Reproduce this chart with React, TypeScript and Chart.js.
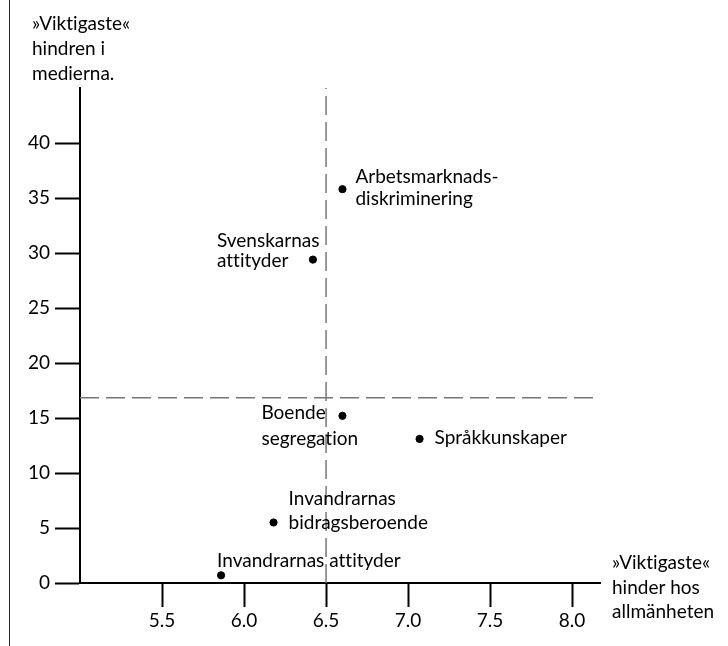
import { useEffect, useRef } from "react";
import { Chart, registerables } from "chart.js";

Chart.register(...registerables);

// ---- data ----
const pointNames: string[][] = [
  ["Arbetsmarknads-", "diskriminering"],
  ["Svenskarnas", "attityder"],
  ["Boende", "segregation"],
  ["Språkkunskaper"],
  ["Invandrarnas", "bidragsberoende"],
  ["Invandrarnas attityder"],
];
const publicValues = [6.6, 6.42, 6.6, 7.07, 6.18, 5.86]; // x: »Viktigaste« hinder hos allmänheten
const mediaValues = [35.8, 29.4, 15.2, 13.1, 5.5, 0.7]; // y: »Viktigaste« hindren i medierna
const xTickValues = [5.5, 6.0, 6.5, 7.0, 7.5, 8.0];
const yTickValues = [0, 5, 10, 15, 20, 25, 30, 35, 40];
const xDivider = 6.5;
const yDivider = 16.84;
const xRange = [5.0, 8.17];
const yRange = [0, 45];
const yTitleLines = ["»Viktigaste«", "hindren i", "medierna."];
const xTitleLines = ["»Viktigaste«", "hinder hos", "allmänheten"];

// ---- label placement (style, pixels relative to the point) ----
const labelPlacement = [
  { dx: 13, dy: -6, lh: 22 },
  { dx: -96, dy: -12.6, lh: 20 },
  { dx: -81, dy: 3.3, lh: 26 },
  { dx: 15, dy: 4.6, lh: 24 },
  { dx: 15, dy: -17.7, lh: 24 },
  { dx: -4, dy: -8.3, lh: 24 },
];

const FONT = "Lato, 'Open Sans', sans-serif";
const FONT_SIZE = 19;

const textPlugin = {
  id: "textPlugin",
  afterDraw(chart: any) {
    const ctx = chart.ctx as any;
    const xs = chart.scales.x;
    const ys = chart.scales.y;
    ctx.save();
    ctx.fillStyle = "#000";
    ctx.font = `${FONT_SIZE}px ${FONT}`;
    ctx.textAlign = "left";
    ctx.textBaseline = "alphabetic";
    try {
      ctx.textRendering = "optimizeSpeed";
    } catch (e) {}
    pointNames.forEach((lines, i) => {
      const px = xs.getPixelForValue(publicValues[i]);
      const py = ys.getPixelForValue(mediaValues[i]);
      const p = labelPlacement[i];
      lines.forEach((line, j) => {
        ctx.fillText(line, px + p.dx, py + p.dy + j * p.lh);
      });
    });
    yTitleLines.forEach((line, j) => ctx.fillText(line, 32, 30 + j * 25));
    xTitleLines.forEach((line, j) => ctx.fillText(line, 612, 569 + j * 24.5));
    // left border line
    ctx.fillStyle = "#222";
    ctx.fillRect(9, 0, 1, chart.height);
    ctx.restore();
  },
};

export default function App() {
  const ref = useRef<HTMLCanvasElement | null>(null);
  useEffect(() => {
    if (!ref.current) return;
    const dashStyle = {
      showLine: true,
      borderColor: "#777",
      borderWidth: 1.5,
      borderDash: [19, 7],
      pointRadius: 0,
      pointHoverRadius: 0,
      fill: false,
    };
    const chart = new Chart(ref.current, {
      type: "scatter",
      data: {
        datasets: [
          {
            ...dashStyle,
            data: [
              { x: xDivider, y: yRange[0] },
              { x: xDivider, y: yRange[1] },
            ],
          },
          {
            ...dashStyle,
            data: [
              { x: xRange[0], y: yDivider },
              { x: xRange[1], y: yDivider },
            ],
          },
          {
            data: publicValues.map((x, i) => ({ x, y: mediaValues[i] })),
            backgroundColor: "#000",
            borderColor: "#000",
            pointRadius: 3.6,
            pointHoverRadius: 3.6,
            showLine: false,
          },
        ],
      },
      options: {
        animation: false,
        responsive: false,
        events: [],
        layout: { padding: { top: 88, right: 128, left: 0, bottom: 0 } },
        plugins: { legend: { display: false }, tooltip: { enabled: false } },
        scales: {
          x: {
            type: "linear",
            min: xRange[0],
            max: xRange[1],
            afterBuildTicks: (axis: any) => {
              axis.ticks = xTickValues.map((v) => ({ value: v }));
            },
            afterFit: (axis: any) => {
              axis.height = 63;
            },
            grid: {
              drawOnChartArea: false,
              drawTicks: true,
              tickLength: 24,
              tickWidth: 2,
              tickColor: "#000",
            },
            border: { display: true, color: "#000", width: 2 },
            ticks: {
              color: "#000",
              padding: 2,
              maxRotation: 0,
              autoSkip: false,
              font: { family: FONT, size: FONT_SIZE },
              callback: (v: any) => Number(v).toFixed(1),
            },
          },
          y: {
            type: "linear",
            min: yRange[0],
            max: yRange[1],
            afterBuildTicks: (axis: any) => {
              axis.ticks = yTickValues.map((v) => ({ value: v }));
            },
            afterFit: (axis: any) => {
              axis.width = 80;
            },
            grid: {
              drawOnChartArea: false,
              drawTicks: true,
              tickLength: 25,
              tickWidth: 2,
              tickColor: "#000",
            },
            border: { display: true, color: "#000", width: 2 },
            ticks: {
              color: "#000",
              padding: 5,
              autoSkip: false,
              font: { family: FONT, size: FONT_SIZE },
              callback: (v: any) => String(v),
            },
          },
        },
      },
      plugins: [textPlugin],
    } as any);
    return () => chart.destroy();
  }, []);
  return (
    <div style={{ position: "fixed", left: 0, top: 0, width: 728, height: 646, background: "#fff" }}>
      <canvas ref={ref} width={728} height={646} style={{ display: "block", width: 728, height: 646 }} />
    </div>
  );
}
